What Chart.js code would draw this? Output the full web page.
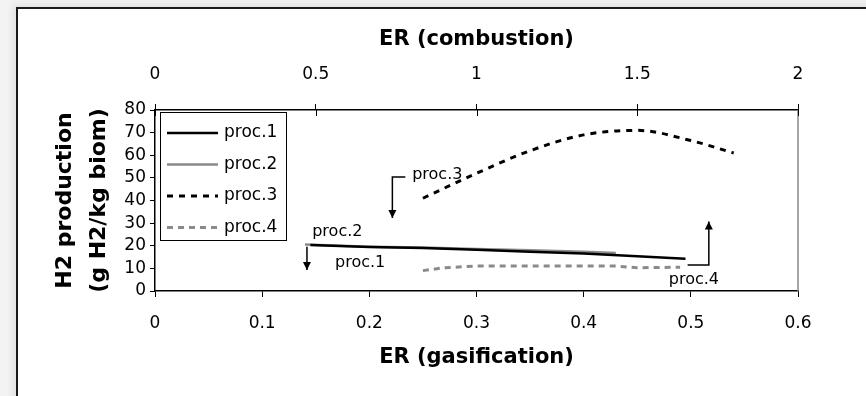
<!DOCTYPE html>
<html>
<head>
<meta charset="utf-8">
<script src="https://cdn.jsdelivr.net/npm/chart.js@4/dist/chart.umd.min.js"></script>
<style>
  html, body { margin: 0; padding: 0; width: 866px; height: 396px; overflow: hidden; background: #f3f3f3; }
  .frame {
    position: absolute; left: 16px; top: 7px; width: 880px; height: 420px;
    background: #fff; border-left: 2px solid #1a1a1a; border-top: 2px solid #1a1a1a;
    box-shadow: -3px -3px 8px rgba(0,0,0,0.08);
  }
  .wrap { position: absolute; left: 0; top: 0; width: 866px; height: 396px; }
</style>
</head>
<body>
<div class="frame"></div>
<div class="wrap"><canvas id="chart" width="866" height="396"></canvas></div>
<script>
// series (x = ER gasification, y = g H2 / kg biomass)
const seriesNames = ["proc.1", "proc.2", "proc.3", "proc.4"];

const proc1X = [0.145, 0.2, 0.25, 0.3, 0.35, 0.4, 0.45, 0.495];
const proc1Y = [20.3, 19.5, 19.0, 18.2, 17.4, 16.6, 15.4, 14.2];

const proc2X = [0.14, 0.2, 0.25, 0.3, 0.35, 0.4, 0.43];
const proc2Y = [20.5, 19.6, 19.2, 18.6, 18.0, 17.3, 16.8];

const proc3X = [0.25, 0.3, 0.35, 0.4, 0.45, 0.5, 0.54];
const proc3Y = [41, 52, 62, 69, 71, 66.5, 61];

const proc4X = [0.25, 0.27, 0.3, 0.35, 0.4, 0.43, 0.45, 0.49];
const proc4Y = [9, 10.3, 11, 11, 11, 11, 10.3, 10.5];

const xTicks = [0, 0.1, 0.2, 0.3, 0.4, 0.5, 0.6];
const x2Ticks = [0, 0.5, 1, 1.5, 2];
const yTicks = [0, 10, 20, 30, 40, 50, 60, 70, 80];

// callout labels: [text, textX, textY, arrow path as [x, y] data points]
const callouts = [
  ["proc.3", 0.240, 51.3, [[0.2336, 50.4], [0.2215, 50.4], [0.2215, 32.3]]],
  ["proc.2", 0.1467, 26.2, [[0.1418, 19.6], [0.1418, 9.3]]],
  ["proc.1", 0.168, 12.4, null],
  ["proc.4", 0.4794, 4.9, [[0.497, 11.5], [0.5168, 11.5], [0.5168, 30.7]]],
];

const FONT = "'DejaVu Sans', Verdana, sans-serif";
Chart.defaults.font.family = FONT;
Chart.defaults.color = "#000";

const pts = (xs, ys) => xs.map((x, i) => ({ x, y: ys[i] }));

const datasets = [
  { label: seriesNames[0], data: pts(proc1X, proc1Y), borderColor: "#000", borderWidth: 2.5 },
  { label: seriesNames[1], data: pts(proc2X, proc2Y), borderColor: "#8a8a8a", borderWidth: 2.5 },
  { label: seriesNames[2], data: pts(proc3X, proc3Y), borderColor: "#000", borderWidth: 3,
    borderDash: [6, 6], cubicInterpolationMode: "monotone" },
  { label: seriesNames[3], data: pts(proc4X, proc4Y), borderColor: "#8a8a8a", borderWidth: 3,
    borderDash: [6, 5] },
].map((d) => ({ ...d, pointRadius: 0, fill: false, xAxisID: "x", yAxisID: "y" }));

function arrowHead(ctx, x0, y0, x1, y1) {
  const a = Math.atan2(y1 - y0, x1 - x0);
  const len = 8, w = 4;
  ctx.beginPath();
  ctx.moveTo(x1, y1);
  ctx.lineTo(x1 - len * Math.cos(a) + w * Math.sin(a), y1 - len * Math.sin(a) - w * Math.cos(a));
  ctx.lineTo(x1 - len * Math.cos(a) - w * Math.sin(a), y1 - len * Math.sin(a) + w * Math.cos(a));
  ctx.closePath();
  ctx.fill();
}

const extras = {
  id: "extras",
  afterDraw(chart) {
    const { ctx, chartArea: a, scales } = chart;
    const sx = scales.x, sy = scales.y, s2 = scales.x2;
    ctx.save();

    // right edge of plot area
    ctx.strokeStyle = "#888";
    ctx.lineWidth = 1.5;
    ctx.beginPath();
    ctx.moveTo(a.right, a.top);
    ctx.lineTo(a.right, a.bottom);
    ctx.stroke();

    // top axis ticks cross the line
    ctx.strokeStyle = "#000";
    ctx.lineWidth = 1;
    for (const t of x2Ticks) {
      const px = Math.round(s2.getPixelForValue(t)) + 0.5;
      ctx.beginPath();
      ctx.moveTo(px, a.top);
      ctx.lineTo(px, a.top + 6);
      ctx.stroke();
    }

    // callouts
    ctx.fillStyle = "#000";
    ctx.font = "16px " + FONT;
    ctx.textBaseline = "middle";
    ctx.textAlign = "left";
    ctx.lineWidth = 1.5;
    for (const [text, tx, ty, path] of callouts) {
      ctx.fillText(text, sx.getPixelForValue(tx), sy.getPixelForValue(ty));
      if (!path) continue;
      const p = path.map(([x, y]) => [sx.getPixelForValue(x), sy.getPixelForValue(y)]);
      ctx.beginPath();
      ctx.moveTo(p[0][0], p[0][1]);
      for (let i = 1; i < p.length; i++) ctx.lineTo(p[i][0], p[i][1]);
      ctx.stroke();
      const n = p.length;
      arrowHead(ctx, p[n - 2][0], p[n - 2][1], p[n - 1][0], p[n - 1][1]);
    }

    // legend box
    const lx = a.left + 5, ly = a.top + 2, lw = 126, lh = 128;
    ctx.fillStyle = "#fff";
    ctx.fillRect(lx, ly, lw, lh);
    ctx.strokeStyle = "#000";
    ctx.lineWidth = 1;
    ctx.strokeRect(lx + 0.5, ly + 0.5, lw, lh);
    ctx.font = "17px " + FONT;
    chart.data.datasets.forEach((d, i) => {
      const cy = ly + 21 + i * 31.5;
      ctx.strokeStyle = d.borderColor;
      ctx.lineWidth = d.borderWidth;
      ctx.setLineDash(d.borderDash || []);
      ctx.beginPath();
      ctx.moveTo(lx + 7, cy);
      ctx.lineTo(lx + 58, cy);
      ctx.stroke();
      ctx.setLineDash([]);
      ctx.fillStyle = "#000";
      ctx.fillText(d.label, lx + 64, cy);
    });
    ctx.restore();
  },
};

new Chart(document.getElementById("chart"), {
  type: "line",
  data: { datasets },
  plugins: [extras],
  options: {
    responsive: false,
    animation: false,
    layout: { padding: { left: 0, right: 68, top: 0, bottom: 0 } },
    plugins: { legend: { display: false }, tooltip: { enabled: false } },
    scales: {
      x: {
        type: "linear", position: "bottom", min: 0, max: 0.6,
        afterBuildTicks: (s) => { s.ticks = xTicks.map((v) => ({ value: v })); },
        afterFit: (s) => { s.height = 105; },
        ticks: { font: { size: 17 }, padding: 16, color: "#000", autoSkip: false, maxRotation: 0,
          callback: (v) => String(v) },
        grid: { drawOnChartArea: false, tickLength: 6, color: "#000" },
        border: { color: "#000", width: 1.5 },
        title: { display: true, text: "ER (gasification)", font: { size: 21, weight: "bold" },
          padding: { top: 0, bottom: 26 }, color: "#000" },
      },
      x2: {
        type: "linear", position: "top", min: 0, max: 2,
        afterBuildTicks: (s) => { s.ticks = x2Ticks.map((v) => ({ value: v })); },
        afterFit: (s) => { s.height = 110; },
        ticks: { font: { size: 17 }, padding: 19, color: "#000", autoSkip: false, maxRotation: 0,
          callback: (v) => String(v) },
        grid: { drawOnChartArea: false, tickLength: 6, color: "#000" },
        border: { color: "#000", width: 1.5 },
        title: { display: true, text: "ER (combustion)", font: { size: 21, weight: "bold" },
          padding: { top: 27, bottom: 0 }, color: "#000" },
      },
      y: {
        type: "linear", position: "left", min: 0, max: 80,
        afterBuildTicks: (s) => { s.ticks = yTicks.map((v) => ({ value: v })); },
        afterFit: (s) => { s.width = 155; },
        ticks: { font: { size: 17 }, padding: 4, color: "#000", autoSkip: false },
        grid: { drawOnChartArea: false, tickLength: 5, color: "#000" },
        border: { color: "#000", width: 1.5 },
        title: { display: true, text: ["H2 production", "(g H2/kg biom)"],
          font: { size: 22, weight: "bold", lineHeight: "34px" },
          padding: { top: 48, bottom: 0 }, color: "#000" },
      },
    },
  },
});
</script>
</body>
</html>
